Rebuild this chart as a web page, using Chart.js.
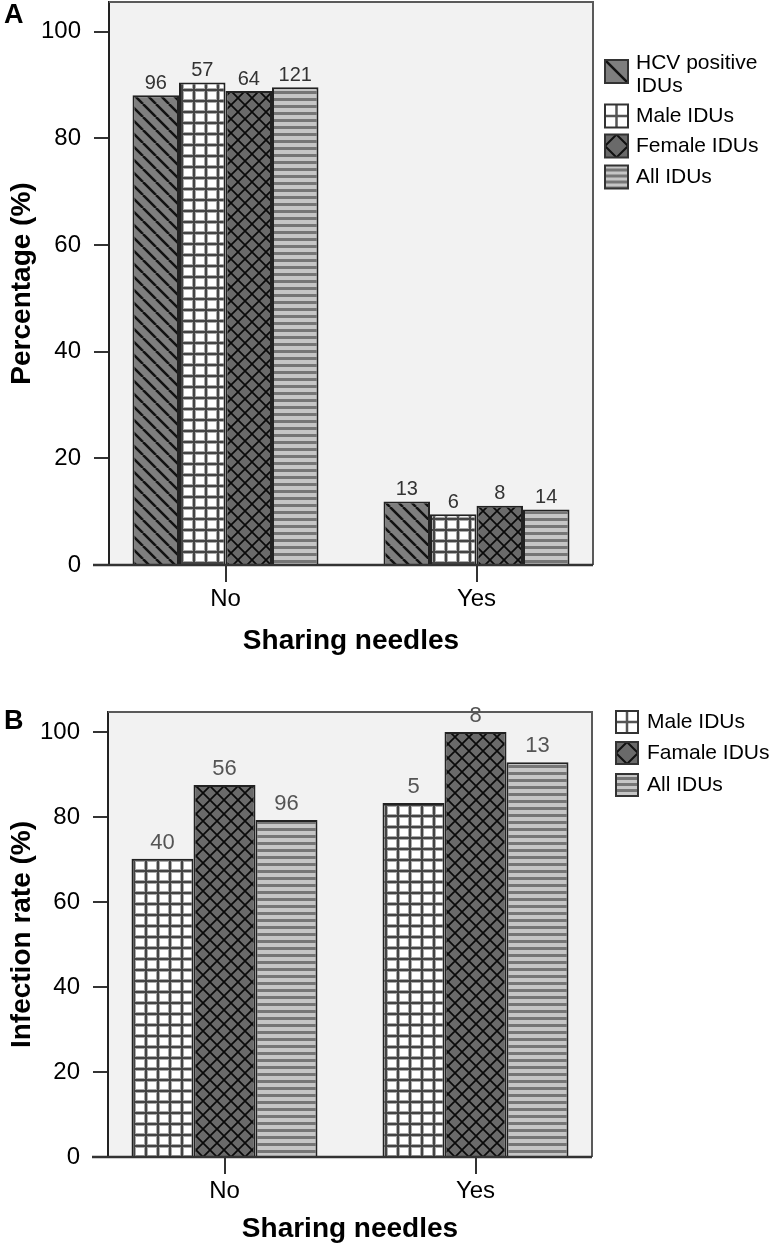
<!DOCTYPE html>
<html>
<head>
<meta charset="utf-8">
<script src="https://cdn.jsdelivr.net/npm/chart.js@4"></script>
<style>
  body { margin: 0; background: #fff; }
  #wrapA { position: absolute; left: 0; top: 0; width: 774px; height: 660px; }
  #wrapB { position: absolute; left: 0; top: 660px; width: 774px; height: 588px; }
</style>
</head>
<body>
<div id="wrapA"><canvas id="chartA" width="774" height="660"></canvas></div>
<div id="wrapB"><canvas id="chartB" width="774" height="588"></canvas></div>
<script>
// ---- data ----
const categories = ['No', 'Yes'];
const yTicks = [0, 20, 40, 60, 80, 100];

// A: share of each group (not) sharing needles, % and n
const seriesA = [['HCV positive', 'IDUs'], 'Male IDUs', 'Female IDUs', 'All IDUs'];
const pctHcv = [88.1, 11.9];
const pctMale = [90.5, 9.5];
const pctFemale = [88.9, 11.1];
const pctAll = [89.6, 10.4];
const nHcv = [96, 13];
const nMale = [57, 6];
const nFemale = [64, 8];
const nAll = [121, 14];

// B: infection rate, % and number positive
const seriesB = ['Male IDUs', 'Famale IDUs', 'All IDUs'];
const rateMale = [70.2, 83.3];
const rateFemale = [87.5, 100];
const rateAll = [79.3, 92.9];
const posMale = [40, 5];
const posFemale = [56, 8];
const posAll = [96, 13];

const FONT = "'Liberation Sans', Arial, sans-serif";
Chart.defaults.font.family = FONT;
Chart.defaults.color = '#000';

// fill patterns, SPSS style
function makePattern(kind) {
    const c = document.createElement('canvas');
    const g = c.getContext('2d');
    if (kind === 'diag') {
        c.width = 13; c.height = 13;
        g.fillStyle = '#7e7e7e'; g.fillRect(0, 0, 13, 13);
        g.strokeStyle = '#111'; g.lineWidth = 2.5;
        for (const k of [-1, 0, 1]) {
            g.beginPath(); g.moveTo(k * 13, 0); g.lineTo(k * 13 + 13, 13); g.stroke();
        }
    } else if (kind === 'grid') {
        c.width = 12; c.height = 11;
        g.fillStyle = '#fff'; g.fillRect(0, 0, 12, 11);
        g.fillStyle = '#aaa'; g.fillRect(0, 0, 4, 11); g.fillRect(0, 0, 12, 4);
        g.fillStyle = '#444'; g.fillRect(1, 0, 2, 11); g.fillRect(0, 1, 12, 2);
    } else if (kind === 'cross') {
        c.width = 14; c.height = 14;
        g.fillStyle = '#6a6a6a'; g.fillRect(0, 0, 14, 14);
        g.strokeStyle = '#0a0a0a'; g.lineWidth = 1.7;
        g.beginPath(); g.moveTo(-1, -1); g.lineTo(15, 15); g.moveTo(15, -1); g.lineTo(-1, 15); g.stroke();
    } else {
        c.width = 4; c.height = 7;
        g.fillStyle = '#c6c6c6'; g.fillRect(0, 0, 4, 7);
        g.fillStyle = '#767676'; g.fillRect(0, 0, 4, 3);
    }
    return g.createPattern(c, 'repeat');
}

function drawKey(ctx, kind, x, y, s) {
    ctx.save();
    ctx.beginPath(); ctx.rect(x, y, s, s); ctx.clip();
    if (kind === 'diag') {
        ctx.fillStyle = '#7e7e7e'; ctx.fillRect(x, y, s, s);
        ctx.strokeStyle = '#111'; ctx.lineWidth = 2.5;
        ctx.beginPath(); ctx.moveTo(x, y); ctx.lineTo(x + s, y + s); ctx.stroke();
    } else if (kind === 'grid') {
        ctx.fillStyle = '#fff'; ctx.fillRect(x, y, s, s);
        ctx.strokeStyle = '#555'; ctx.lineWidth = 2.5;
        ctx.beginPath();
        ctx.moveTo(x + s / 2, y); ctx.lineTo(x + s / 2, y + s);
        ctx.moveTo(x, y + s / 2); ctx.lineTo(x + s, y + s / 2);
        ctx.stroke();
    } else if (kind === 'cross') {
        ctx.fillStyle = '#6a6a6a'; ctx.fillRect(x, y, s, s);
        ctx.strokeStyle = '#111'; ctx.lineWidth = 2;
        ctx.beginPath();
        ctx.moveTo(x + s / 2, y); ctx.lineTo(x + s, y + s / 2);
        ctx.lineTo(x + s / 2, y + s); ctx.lineTo(x, y + s / 2); ctx.closePath();
        ctx.stroke();
    } else {
        ctx.fillStyle = '#c6c6c6'; ctx.fillRect(x, y, s, s);
        ctx.fillStyle = '#767676';
        for (let yy = y + 3; yy < y + s; yy += 6) ctx.fillRect(x, yy, s, 3);
    }
    ctx.restore();
    ctx.strokeStyle = '#333'; ctx.lineWidth = 2;
    ctx.strokeRect(x, y, s, s);
}

// frame, labels over bars, legend, panel letter
const panelPlugin = {
    id: 'panel',
    afterLayout(chart, args, o) {
        // spread the two groups a little, as in the original
        const x = chart.scales.x;
        x.left = chart.chartArea.left - o.stretch;
        x.right = chart.chartArea.right + o.stretch;
        x.configure();
    },
    beforeDraw(chart) {
        const {ctx, chartArea: a} = chart;
        ctx.save();
        ctx.fillStyle = '#f2f2f2';
        ctx.fillRect(a.left, a.top, a.right - a.left, a.bottom - a.top);
        ctx.restore();
    },
    afterDatasetsDraw(chart, args, o) {
        const {ctx, chartArea: a} = chart;
        ctx.save();
        // top/right frame
        ctx.strokeStyle = '#5a5a5a'; ctx.lineWidth = 2;
        ctx.beginPath();
        ctx.moveTo(a.left, a.top); ctx.lineTo(a.right, a.top); ctx.lineTo(a.right, a.bottom);
        ctx.stroke();
        // baseline
        ctx.strokeStyle = '#333'; ctx.lineWidth = 2.5;
        ctx.beginPath(); ctx.moveTo(a.left - 16, a.bottom); ctx.lineTo(a.right, a.bottom); ctx.stroke();

        // counts above bars
        ctx.font = o.labelFont;
        ctx.fillStyle = o.labelColor;
        ctx.textAlign = 'center';
        ctx.textBaseline = 'bottom';
        o.counts.forEach((arr, i) => {
            chart.getDatasetMeta(i).data.forEach((bar, j) => {
                ctx.fillText(String(arr[j]), bar.x, bar.y - o.labelGap);
            });
        });

        // legend
        ctx.font = o.legendFont;
        ctx.textAlign = 'left';
        ctx.textBaseline = 'middle';
        o.names.forEach((name, i) => {
            const c = o.legendRows[i];
            const s = o.keySize;
            drawKey(ctx, o.kinds[i], o.keyX, c - s / 2, s);
            ctx.fillStyle = '#000';
            if (Array.isArray(name)) {
                name.forEach((line, k) => ctx.fillText(line, o.textX, c - 8.5 + k * 23));
            } else {
                ctx.fillText(name, o.textX, c);
            }
        });

        // panel letter
        ctx.font = 'bold 27px ' + FONT;
        ctx.fillStyle = '#000';
        ctx.fillText(o.letter, 4, o.letterY);
        ctx.restore();
    }
};

function buildChart(id, p) {
    const datasets = p.values.map((vals, i) => ({
        label: Array.isArray(p.names[i]) ? p.names[i].join(' ') : p.names[i],
        data: vals,
        backgroundColor: makePattern(p.kinds[i]),
        borderColor: '#222',
        borderWidth: 2,
        categoryPercentage: 0.741,
        barPercentage: 1
    }));
    return new Chart(document.getElementById(id), {
        type: 'bar',
        data: { labels: categories, datasets: datasets },
        options: {
            responsive: false,
            animation: false,
            events: [],
            layout: { padding: { top: p.top, right: p.right, left: 0, bottom: 0 } },
            plugins: {
                legend: { display: false },
                tooltip: { enabled: false },
                panel: {
                    stretch: 9,
                    counts: p.counts,
                    names: p.names,
                    kinds: p.kinds,
                    labelFont: p.labelFont,
                    labelColor: p.labelColor,
                    labelGap: p.labelGap,
                    legendFont: '21px ' + FONT,
                    legendRows: p.legendRows,
                    keyX: p.keyX,
                    keySize: p.keySize,
                    textX: p.textX,
                    letter: p.letter,
                    letterY: p.letterY
                }
            },
            scales: {
                x: {
                    offset: true,
                    grid: { offset: false, drawOnChartArea: false, tickLength: 17, color: '#333', lineWidth: 2 },
                    border: { display: false },
                    ticks: { font: { size: 24 }, color: '#000', padding: 3 },
                    title: {
                        display: true, text: 'Sharing needles',
                        font: { size: 28, weight: 'bold' }, color: '#000',
                        padding: { top: 0, bottom: 2 }
                    },
                    afterFit: s => { s.height = p.xHeight; s.paddingLeft = 0; s.paddingRight = 0; }
                },
                y: {
                    min: 0,
                    max: p.yMax,
                    grid: { drawOnChartArea: false, tickLength: 15, color: '#333', lineWidth: 2 },
                    border: { display: true, color: '#222', width: 2 },
                    ticks: { font: { size: 24 }, color: '#000', padding: 13 },
                    afterBuildTicks: s => { s.ticks = yTicks.map(v => ({ value: v })); },
                    title: {
                        display: true, text: p.yTitle,
                        font: { size: 28, weight: 'bold' }, color: '#000',
                        padding: { top: 5, bottom: 0 }
                    },
                    afterFit: s => { s.width = p.yWidth; s.paddingTop = 0; s.paddingBottom = 0; }
                }
            }
        },
        plugins: [panelPlugin]
    });
}

buildChart('chartA', {
    names: seriesA,
    kinds: ['diag', 'grid', 'cross', 'stripes'],
    values: [pctHcv, pctMale, pctFemale, pctAll],
    counts: [nHcv, nMale, nFemale, nAll],
    yTitle: 'Percentage (%)',
    yMax: 105.6,
    top: 2, right: 181, yWidth: 109, xHeight: 95,
    labelFont: '20px ' + FONT, labelColor: '#333', labelGap: 2,
    legendRows: [71.5, 116, 146, 177],
    keyX: 605, keySize: 23, textX: 636,
    letter: 'A', letterY: 16
});

buildChart('chartB', {
    names: seriesB,
    kinds: ['grid', 'cross', 'stripes'],
    values: [rateMale, rateFemale, rateAll],
    counts: [posMale, posFemale, posAll],
    yTitle: 'Infection rate (%)',
    yMax: 104.7,
    top: 52, right: 182, yWidth: 108, xHeight: 91,
    labelFont: '22px ' + FONT, labelColor: '#555', labelGap: 5,
    legendRows: [62, 93, 125],
    keyX: 616, keySize: 22, textX: 647,
    letter: 'B', letterY: 62
});
</script>
</body>
</html>
